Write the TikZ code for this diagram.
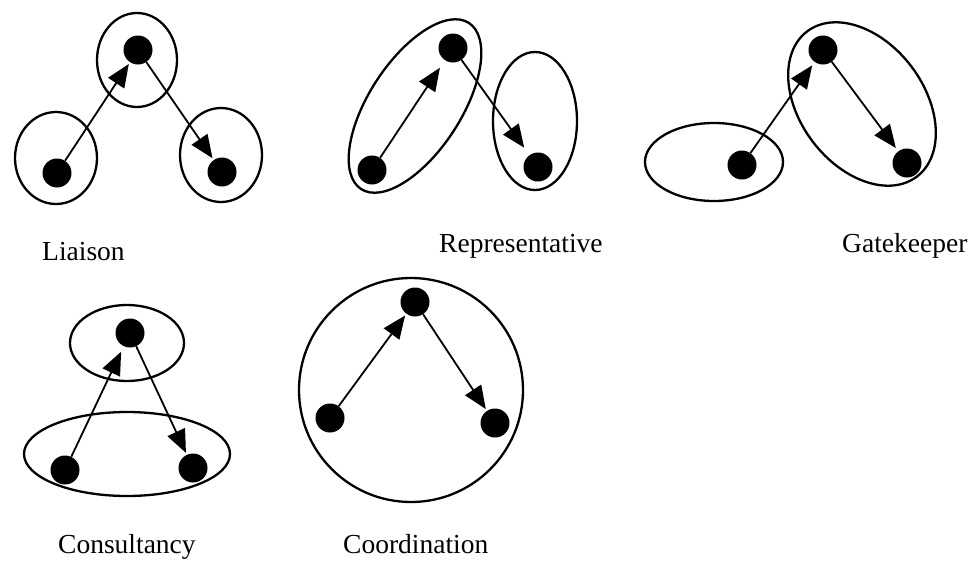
\documentclass[tikz,border=0pt]{standalone}
\usepackage{fontspec}
\setmainfont{Liberation Serif}
\usetikzlibrary{arrows.meta}
\begin{document}
\begin{tikzpicture}[x=1pt,y=-1pt,
  dot/.style={circle,fill=black,inner sep=0pt,minimum size=29pt},
  ring/.style={draw=black,line width=2.3pt},
  link/.style={line width=1.8pt,-{Triangle[length=23pt,width=19pt]},shorten >=2pt},
  lbl/.style={anchor=base west,inner sep=0pt,font=\fontsize{27.5}{30}\selectfont}]
\useasboundingbox (0,0) rectangle (972,560);
% Liaison
\node[dot] (l1) at (57,173) {};
\node[dot] (l2) at (138,50) {};
\node[dot] (l3) at (222,172) {};
\draw[ring] (56,158) ellipse [x radius=41,y radius=46];
\draw[ring] (137,60) ellipse [x radius=40,y radius=47];
\draw[ring] (221,155) ellipse [x radius=41,y radius=47];
\draw[link] (l1) -- (l2);
\draw[link] (l2) -- (l3);
\node[lbl] (tl) at (42,260) {Liaison};
% Representative
\node[dot] (r1) at (372,170) {};
\node[dot] (r2) at (453,48) {};
\node[dot] (r3) at (538,167) {};
\draw[ring,rotate around={57:(415,106)}] (415,106) ellipse [x radius=99,y radius=46];
\draw[ring] (535,121) ellipse [x radius=42,y radius=69];
\draw[link,shorten >=9pt] (r1) -- (r2);
\draw[link,shorten >=9pt] (r2) -- (r3);
\node[lbl] (tr) at (439,252) {Representative};
% Gatekeeper
\node[dot] (g1) at (742,165) {};
\node[dot] (g2) at (823,50) {};
\node[dot] (g3) at (907,163) {};
\draw[ring] (714,162) ellipse [x radius=69,y radius=39];
\draw[ring,rotate around={-53:(862,104)}] (862,104) ellipse [x radius=91,y radius=62];
\draw[link,shorten >=4pt] (g1) -- (g2);
\draw[link,shorten >=4pt] (g2) -- (g3);
\node[lbl] (tg) at (842,252) {Gatekeeper};
% Consultancy
\node[dot] (c1) at (65,470) {};
\node[dot] (c2) at (130,333) {};
\node[dot] (c3) at (193,468) {};
\draw[ring] (127,343) ellipse [x radius=57,y radius=38];
\draw[ring] (127,454) ellipse [x radius=103,y radius=42];
\draw[link,shorten >=6pt] (c1) -- (c2);
\draw[link] (c2) -- (c3);
\node[lbl] (tc) at (58,553) {Consultancy};
% Coordination
\node[dot] (k1) at (330,418) {};
\node[dot] (k2) at (415,302) {};
\node[dot] (k3) at (495,423) {};
\draw[ring] (411,390) circle [radius=112];
\draw[link] (k1) -- (k2);
\draw[link] (k2) -- (k3);
\node[lbl] (tk) at (343,553) {Coordination};
\end{tikzpicture}
\end{document}
